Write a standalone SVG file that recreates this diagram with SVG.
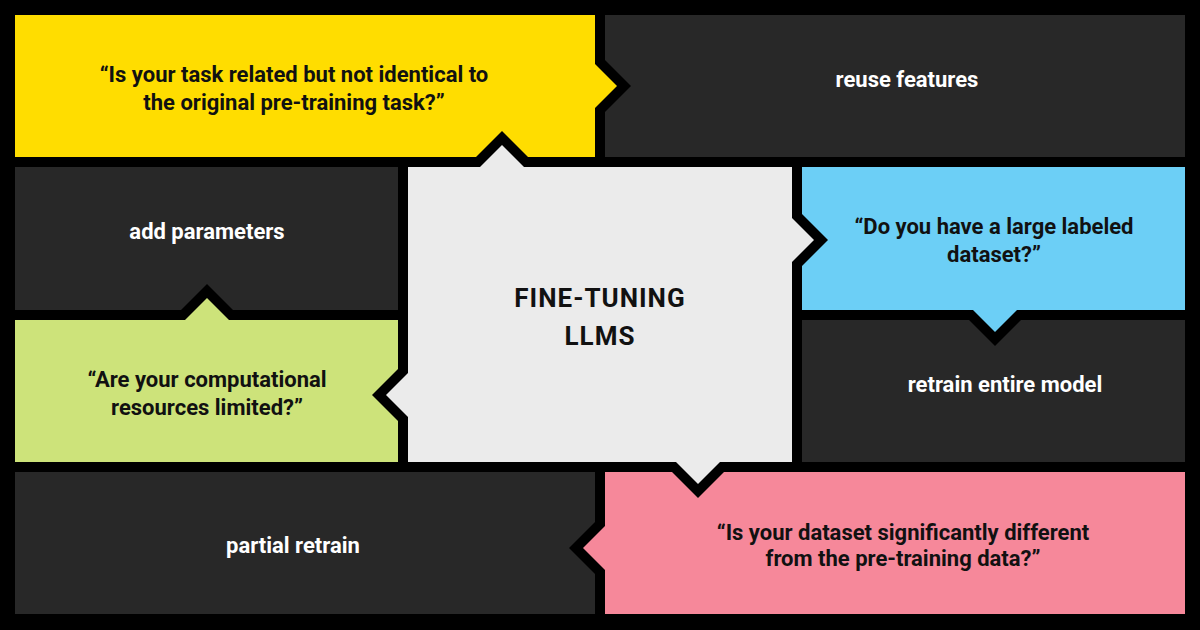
<svg xmlns="http://www.w3.org/2000/svg" width="1200" height="630" viewBox="0 0 1200 630">
<style>
.t{font-family:Roboto,"Liberation Sans",sans-serif;font-weight:700;font-size:22px;text-anchor:middle}
.w{fill:#ffffff}
.k{fill:#111111}
.c{font-size:26px;letter-spacing:1px}
.dark{fill:#282828}
</style>
<rect x="0" y="0" width="1200" height="630" fill="#000"/>
<g id="reuse">
<rect class="dark" x="605" y="15" width="580" height="142"/>
<text class="t w" x="907" y="87">reuse features</text>
</g>
<g id="addparams">
<rect class="dark" x="15" y="167" width="383" height="143"/>
<text class="t w" x="207" y="239">add parameters</text>
</g>
<g id="retrain">
<rect class="dark" x="802" y="320" width="383" height="142"/>
<text class="t w" x="1005" y="392">retrain entire model</text>
</g>
<g id="partial">
<rect class="dark" x="15" y="472" width="580" height="142"/>
<text class="t w" x="293" y="553">partial retrain</text>
</g>
<g id="q1">
<rect x="15" y="15" width="580" height="142" fill="#ffdd00"/>
<text class="t k" x="294" y="82">“Is your task related but not identical to</text>
<text class="t k" x="294" y="110">the original pre-training task?”</text>
</g>
<g id="q2">
<rect x="802" y="167" width="383" height="143" fill="#6ccff6"/>
<text class="t k" x="994" y="234">“Do you have a large labeled</text>
<text class="t k" x="994" y="262">dataset?”</text>
</g>
<g id="q3">
<rect x="15" y="320" width="383" height="142" fill="#cde37a"/>
<text class="t k" x="207" y="387">“Are your computational</text>
<text class="t k" x="207" y="415">resources limited?”</text>
</g>
<g id="q4">
<rect x="605" y="472" width="580" height="142" fill="#f6889a"/>
<text class="t k" x="903" y="540">“Is your dataset significantly different</text>
<text class="t k" x="903" y="566">from the pre-training data?”</text>
</g>
<g id="center">
<rect x="408" y="167" width="384" height="295" fill="#ebebeb"/>
<text class="t k c" x="600" y="307">FINE-TUNING</text>
<text class="t k c" x="600" y="345">LLMS</text>
</g>
<g id="connectors">
<polygon points="595,50 631,86 595,122" fill="#000"/>
<polygon points="595,64 617,86 595,108" fill="#ffdd00"/>
<polygon points="466,167 502,131 538,167" fill="#000"/>
<polygon points="480,167 502,145 524,167" fill="#ebebeb"/>
<polygon points="171,320 207,284 243,320" fill="#000"/>
<polygon points="185,320 207,298 229,320" fill="#cde37a"/>
<polygon points="408,359 372,395 408,431" fill="#000"/>
<polygon points="408,373 386,395 408,417" fill="#ebebeb"/>
<polygon points="792,204 828,240 792,276" fill="#000"/>
<polygon points="792,218 814,240 792,262" fill="#ebebeb"/>
<polygon points="959,310 995,346 1031,310" fill="#000"/>
<polygon points="973,310 995,332 1017,310" fill="#6ccff6"/>
<polygon points="662,462 698,498 734,462" fill="#000"/>
<polygon points="676,462 698,484 720,462" fill="#ebebeb"/>
<polygon points="605,512 569,548 605,584" fill="#000"/>
<polygon points="605,526 583,548 605,570" fill="#f6889a"/>
</g>
</svg>
